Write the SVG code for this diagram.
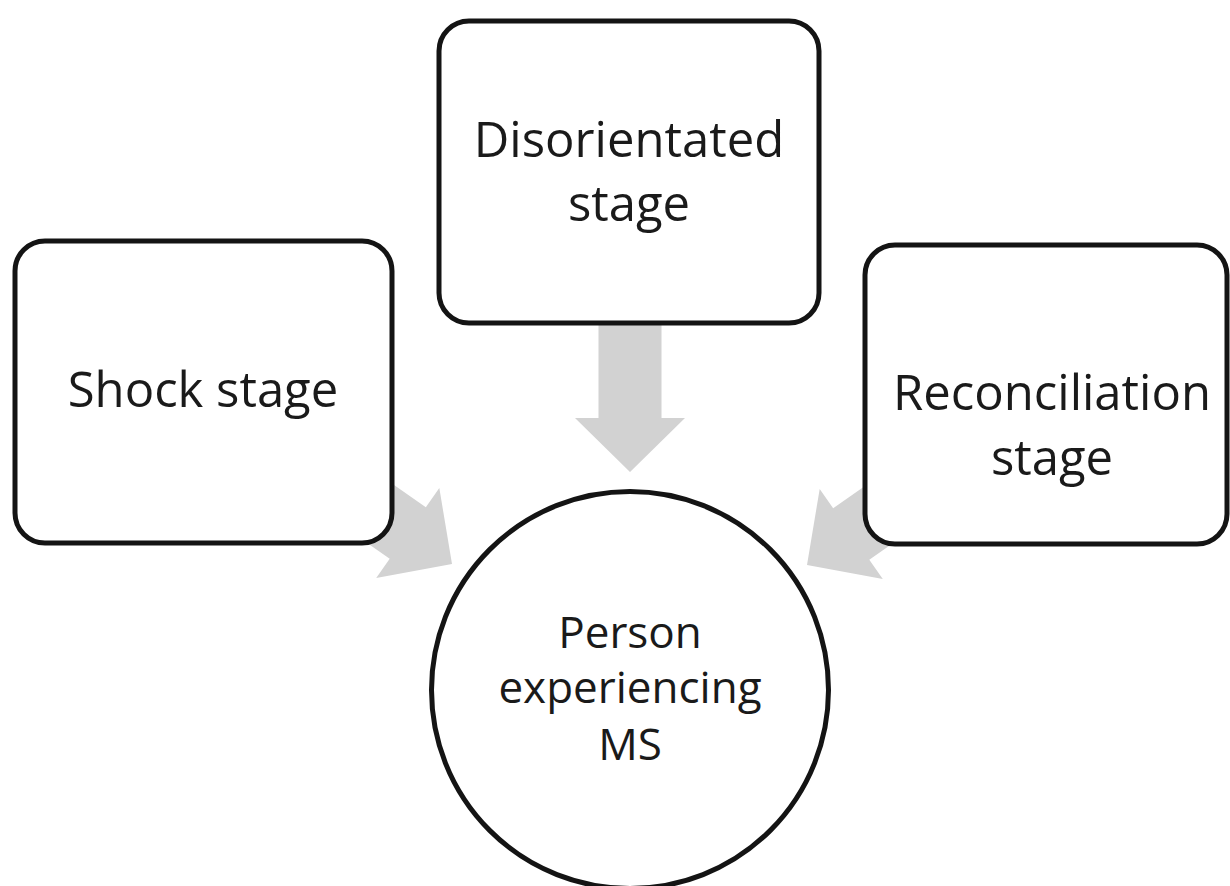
<svg xmlns="http://www.w3.org/2000/svg" width="1230" height="886" viewBox="0 0 1230 886">
<defs>
<style>
.box{fill:#fff;stroke:#141414;stroke-width:5}
.arrow{fill:#d2d2d2;stroke:none}
.lbl{font-family:"Open Sans","Noto Sans","Liberation Sans",sans-serif;font-size:49px;fill:#1a1a1a;text-anchor:middle}
.lbl2{font-family:"Open Sans","Noto Sans","Liberation Sans",sans-serif;font-size:44px;fill:#1a1a1a;text-anchor:middle}
</style>
<path id="arr" d="M0,0 L-54,-55 L-54,-31.5 L-160,-31.5 L-160,31.5 L-54,31.5 L-54,55 Z"/>
</defs>
<rect width="1230" height="886" fill="#fff"/>
<g id="connectors">
<use href="#arr" class="arrow" transform="translate(630,472) rotate(90)"/>
<use href="#arr" class="arrow" transform="translate(452,564) rotate(35)"/>
<use href="#arr" class="arrow" transform="translate(807,565) rotate(145)"/>
</g>
<g id="shock">
<rect class="box" x="15" y="241" width="377" height="302" rx="30"/>
<text class="lbl" x="203" y="407">Shock stage</text>
</g>
<g id="disorientated">
<rect class="box" x="439" y="21" width="380" height="302" rx="30"/>
<text class="lbl" x="629" y="157">Disorientated</text>
<text class="lbl" x="629" y="221">stage</text>
</g>
<g id="reconciliation">
<rect class="box" x="865" y="245" width="362" height="299" rx="30"/>
<text class="lbl" x="1052" y="410">Reconciliation</text>
<text class="lbl" x="1052" y="475">stage</text>
</g>
<g id="person">
<circle class="box" cx="630" cy="690" r="198.5"/>
<text class="lbl2" x="630" y="648">Person</text>
<text class="lbl2" x="630" y="703">experiencing</text>
<text class="lbl2" x="630" y="760">MS</text>
</g>
</svg>
